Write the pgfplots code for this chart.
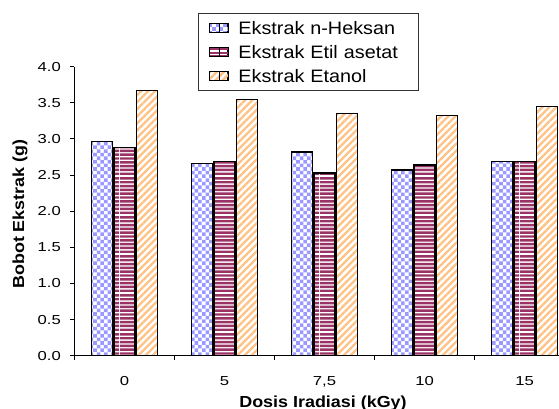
\documentclass[border=0pt]{standalone}
\usepackage{fontspec}
\setmainfont{Liberation Sans}
\newfontfamily\tickfont[FakeStretch=1.28]{Liberation Sans}
\newfontfamily\legfont[FakeStretch=1.1]{Liberation Sans}
\newfontfamily\labfont[FakeStretch=1.12]{Liberation Sans}
\usepackage{pgfplots}
\pgfplotsset{compat=1.18}
\usetikzlibrary{patterns.meta}

\definecolor{heksan}{HTML}{9999FF}
\definecolor{etil}{HTML}{993366}
\definecolor{etanol}{HTML}{FFC285}

% checkerboard, 3.6pt cells, drawn on a large tile to keep seams rare
\tikzdeclarepattern{
  name=checker,
  type=uncolored,
  bottom left={(0pt,0pt)},
  top right={(28.8pt,28.8pt)},
  tile size={(28.8pt,28.8pt)},
  code={
    \foreach \i in {0,...,7}{
      \foreach \j in {0,...,7}{
        \pgfmathparse{int(mod(\i+\j,2))}
        \ifnum\pgfmathresult=0
          \fill (\i*3.6pt,\j*3.6pt) rectangle ++(3.6pt,3.6pt);
        \fi
      }
    }
  }
}
% horizontal stripes, 3.9pt period
\tikzdeclarepattern{
  name=hstripes,
  type=uncolored,
  bottom left={(0pt,0pt)},
  top right={(40pt,39pt)},
  tile size={(40pt,39pt)},
  code={
    \foreach \k in {0,...,9}{
      \fill (0pt,\k*3.9pt) rectangle (40pt,\k*3.9pt+2.5pt);
    }
  }
}

\pgfplotsset{
  boxlegend/.style={
    legend image code/.code={
      \path (0pt,-4.5pt) rectangle (18.7pt,4.5pt);
      \draw[##1, line width=0.8pt] (9.7pt,-4.5pt) rectangle (18.7pt,4.5pt);
    }
  }
}

\begin{document}
\begin{tikzpicture}
\begin{axis}[
  at={(0pt,0pt)}, anchor=south west,
  scale only axis, width=500pt, height=289pt,
  xmin=-0.5, xmax=4.5, ymin=0, ymax=4,
  axis x line*=bottom, axis y line*=left,
  axis line style={-, line width=1.1pt, black},
  tick align=outside,
  major tick length=4pt, minor tick length=4pt,
  tick style={black, line width=1pt},
  ytick={0,0.5,1,1.5,2,2.5,3,3.5,4},
  yticklabels={0.0,0.5,1.0,1.5,2.0,2.5,3.0,3.5,4.0},
  xtick={0,1,2,3,4},
  xticklabels={0,5,{7,5},10,15},
  minor xtick={-0.5,0.5,1.5,2.5,3.5,4.5},
  major x tick style={draw=none},
  ticklabel style={font=\tickfont\fontsize{13pt}{13pt}\selectfont, inner sep=0pt},
  yticklabel style={anchor=east},
  xticklabel style={anchor=north},
  yticklabel shift=9.5pt,
  xticklabel shift=17pt,
  ybar, bar width=21pt, ybar=1.3pt,
  xlabel={\labfont\bfseries Dosis Iradiasi (kGy)},
  ylabel={\labfont\bfseries Bobot Ekstrak (g)},
  label style={font=\labfont\bfseries\fontsize{16pt}{16pt}\selectfont},
  xlabel style={at={(axis description cs:0.497,-0.178)}, anchor=base},
  ylabel style={at={(axis description cs:-0.109,0.49)}, anchor=center},
  legend cell align=left,
  legend style={
    at={(axis description cs:0.247,1.1858)}, anchor=north west,
    draw=black!80, line width=1pt,
    inner xsep=10.3pt, inner ysep=4pt,
    row sep=3pt,
    font=\legfont\fontsize{18pt}{18pt}\selectfont,
    nodes={inner sep=0pt, text height=17pt, text depth=4pt, text width=170pt, align=left},
    /tikz/every odd column/.append style={column sep=9.7pt},
  },
]
\addplot[boxlegend, draw=black, line width=1.2pt, pattern=checker, pattern color=heksan]
  coordinates {(0,2.96) (1,2.66) (2,2.82) (3,2.57) (4,2.69)};
\addplot[boxlegend, draw=black, line width=1.2pt, pattern=hstripes, pattern color=etil]
  coordinates {(0,2.88) (1,2.69) (2,2.53) (3,2.64) (4,2.69)};
\addplot[boxlegend, draw=black, line width=1.2pt, pattern={Lines[angle=45, distance=5pt, line width=2.3pt]}, pattern color=etanol]
  coordinates {(0,3.67) (1,3.55) (2,3.35) (3,3.33) (4,3.45)};
\legend{Ekstrak n-Heksan, Ekstrak Etil asetat, Ekstrak Etanol}
\end{axis}
\pgfresetboundingbox
\useasboundingbox (-74.5pt,-53.3pt) rectangle (484.5pt,355.7pt);
\end{tikzpicture}
\end{document}
